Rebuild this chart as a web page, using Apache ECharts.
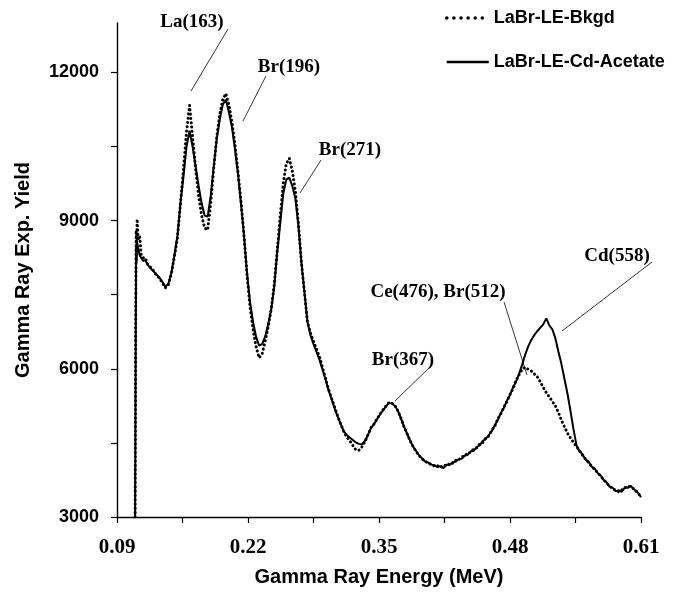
<!DOCTYPE html>
<html><head><meta charset="utf-8">
<script src="https://cdn.jsdelivr.net/npm/echarts@6/dist/echarts.min.js"></script>
<style>html,body{margin:0;padding:0;background:#fff}#c{width:683px;height:592px}</style>
</head><body><div id="c"></div>
<script>
// Gamma ray energy (MeV), yield pairs
const bkgdName = 'LaBr-LE-Bkgd';
const cdName = 'LaBr-LE-Cd-Acetate';
const xTicks = [0.09,0.155,0.22,0.285,0.35,0.415,0.48,0.545,0.61];
const xLabels = [0.09,0.22,0.35,0.48,0.61];
const yTicks = [3000,4500,6000,7500,9000,10500,12000];
const yLabels = [3000,6000,9000,12000];
const peakLabels = ['La(163)','Br(196)','Br(271)','Br(367)','Ce(476), Br(512)','Cd(558)'];

const cdData = [
[0.1080,3000],[0.1085,6000],[0.1090,8500],[0.1095,8150],[0.1100,8550],[0.1110,8450],[0.1125,8300],[0.1140,8250],[0.1160,8180],[0.1180,8200],[0.1200,8120],
[0.123,8040],[0.126,7980],[0.129,7910],[0.132,7850],[0.135,7760],[0.138,7660],[0.141,7720],[0.144,7950],[0.147,8300],[0.150,8700],
[0.153,9350],[0.156,9900],[0.159,10500],[0.162,10820],[0.165,10500],[0.168,10100],[0.171,9700],[0.174,9350],[0.177,9100],[0.180,9080],
[0.183,9500],[0.186,10100],[0.189,10650],[0.192,11050],[0.195,11350],[0.198,11450],[0.201,11200],[0.204,10900],[0.207,10450],[0.210,9950],
[0.213,9350],[0.216,8700],[0.219,7950],[0.222,7350],[0.225,6950],[0.228,6650],[0.231,6470],[0.234,6500],[0.237,6650],[0.240,6900],
[0.243,7200],[0.246,7650],[0.249,8350],[0.252,8950],[0.255,9550],[0.258,9830],[0.261,9870],[0.264,9700],[0.267,9450],[0.270,8900],
[0.273,8150],[0.276,7550],[0.279,6950],[0.282,6680],[0.285,6500],[0.288,6340],[0.291,6180],[0.294,5980],[0.297,5780],[0.300,5560],
[0.303,5380],[0.306,5200],[0.309,5030],[0.312,4880],[0.315,4740],[0.318,4660],[0.321,4610],[0.324,4560],[0.327,4510],[0.330,4480],
[0.333,4470],[0.336,4540],[0.339,4660],[0.342,4800],[0.345,4880],[0.348,4980],[0.351,5076],[0.354,5160],[0.357,5240],[0.360,5310],
[0.363,5300],[0.366,5240],[0.369,5140],[0.372,4980],[0.375,4820],[0.378,4680],[0.381,4540],[0.384,4420],[0.387,4330],[0.390,4240],
[0.393,4180],[0.396,4120],[0.399,4100],[0.402,4060],[0.405,4050],[0.408,4010],[0.411,4030],[0.414,3990],[0.417,4060],[0.420,4050],
[0.423,4110],[0.426,4120],[0.429,4170],[0.432,4180],[0.435,4240],[0.438,4260],[0.441,4330],[0.444,4340],[0.447,4420],[0.450,4450],
[0.453,4540],[0.456,4580],[0.459,4660],[0.462,4740],[0.465,4860],[0.468,4970],[0.471,5110],[0.474,5210],[0.477,5360],[0.480,5470],
[0.483,5620],[0.486,5740],[0.489,5900],[0.492,6080],[0.495,6280],[0.498,6450],[0.501,6580],[0.504,6680],[0.507,6760],[0.510,6830],
[0.513,6900],[0.516,7020],[0.519,6880],[0.522,6800],[0.525,6620],[0.528,6350],[0.531,6100],[0.534,5800],[0.537,5500],[0.540,5150],
[0.543,4780],[0.546,4450],[0.549,4330],[0.552,4270],[0.555,4160],[0.558,4120],[0.561,4020],[0.564,3980],[0.567,3890],[0.570,3840],
[0.573,3750],[0.576,3700],[0.579,3610],[0.582,3590],[0.585,3520],[0.588,3540],[0.591,3510],[0.594,3600],[0.597,3590],[0.600,3630],
[0.603,3560],[0.606,3520],[0.609,3430],[0.610,3400]
];

const bkgdData = [
[0.1080,3000],[0.1085,6500],[0.1090,8800],[0.1095,8400],[0.1100,9030],[0.1110,8600],[0.1125,8700],[0.1140,8300],[0.1160,8250],[0.1180,8250],[0.1200,8130],
[0.123,8060],[0.126,7990],[0.129,7900],[0.132,7840],[0.135,7740],[0.138,7640],[0.141,7700],[0.144,7930],[0.147,8280],[0.150,8650],
[0.153,9350],[0.156,10050],[0.159,10800],[0.162,11330],[0.165,10700],[0.168,10050],[0.171,9500],[0.174,9100],[0.177,8850],[0.180,8810],
[0.183,9350],[0.186,10050],[0.189,10700],[0.192,11150],[0.195,11450],[0.198,11570],[0.201,11350],[0.204,11000],[0.207,10550],[0.210,10000],
[0.213,9400],[0.216,8700],[0.219,7900],[0.222,7250],[0.225,6800],[0.228,6450],[0.231,6220],[0.234,6300],[0.237,6550],[0.240,6850],
[0.243,7200],[0.246,7700],[0.249,8400],[0.252,9100],[0.255,9750],[0.258,10150],[0.261,10260],[0.264,10000],[0.267,9600],[0.270,8950],
[0.273,8150],[0.276,7550],[0.279,6950],[0.282,6720],[0.285,6560],[0.288,6400],[0.291,6240],[0.294,6020],[0.297,5800],[0.300,5580],
[0.303,5400],[0.306,5220],[0.309,5040],[0.312,4880],[0.315,4730],[0.318,4620],[0.321,4540],[0.324,4450],[0.327,4360],[0.330,4350],
[0.333,4420],[0.336,4520],[0.339,4660],[0.342,4810],[0.345,4880],[0.348,4990],[0.351,5080],[0.354,5170],[0.357,5250],[0.360,5320],
[0.363,5300],[0.366,5250],[0.369,5140],[0.372,4990],[0.375,4820],[0.378,4680],[0.381,4540],[0.384,4420],[0.387,4320],[0.390,4240],
[0.393,4170],[0.396,4130],[0.399,4080],[0.402,4070],[0.405,4030],[0.408,4040],[0.411,4000],[0.414,4050],[0.417,4030],[0.420,4080],
[0.423,4090],[0.426,4150],[0.429,4150],[0.432,4220],[0.435,4230],[0.438,4300],[0.441,4310],[0.444,4380],[0.447,4400],[0.450,4480],
[0.453,4510],[0.456,4600],[0.459,4640],[0.462,4760],[0.465,4840],[0.468,4990],[0.471,5090],[0.474,5230],[0.477,5340],[0.480,5480],
[0.483,5600],[0.486,5760],[0.489,5880],[0.492,5990],[0.495,6030],[0.498,5990],[0.501,5960],[0.504,5900],[0.507,5840],[0.510,5740],
[0.513,5620],[0.516,5520],[0.519,5430],[0.522,5340],[0.525,5250],[0.528,5120],[0.531,4960],[0.534,4830],[0.537,4700],[0.540,4600],
[0.543,4510],[0.546,4430],[0.549,4340],[0.552,4250],[0.555,4170],[0.558,4100],[0.561,4030],[0.564,3960],[0.567,3900],[0.570,3820],
[0.573,3760],[0.576,3680],[0.579,3630],[0.582,3570],[0.585,3540],[0.588,3510],[0.591,3550],[0.594,3590],[0.597,3630],[0.600,3600],
[0.603,3570],[0.606,3500],[0.609,3440],[0.610,3410]
];

const chart = echarts.init(document.getElementById('c'));
const sans = 'Liberation Sans, Arial, sans-serif';
const serif = 'Liberation Serif, Times New Roman, serif';
chart.setOption({
  animation: false,
  backgroundColor: '#fff',
  grid: { left: 117, right: 42, top: 23, bottom: 68, containLabel: false },
  legend: {
    orient: 'vertical', left: 445, top: 9, padding: 0, itemWidth: 42, itemHeight: 14, itemGap: 26,
    itemStyle: { opacity: 0 },
    textStyle: { fontFamily: sans, fontWeight: 'bold', fontSize: 18, color: '#000' },
    data: [
      { name: bkgdName, lineStyle: { type: [0.1, 7], width: 3.5, cap: 'round', color: '#000' } },
      { name: cdName, lineStyle: { width: 2.5, color: '#000' } }
    ]
  },
  xAxis: {
    type: 'value', min: 0.09, max: 0.61,
    name: 'Gamma Ray Energy (MeV)', nameLocation: 'middle', nameGap: 50,
    nameTextStyle: { fontFamily: sans, fontWeight: 'bold', fontSize: 20, color: '#000' },
    axisLine: { show: true, onZero: false, lineStyle: { color: '#000', width: 1.4 } },
    axisTick: { show: true, length: 6, customValues: xTicks, lineStyle: { color: '#000', width: 1.2 } },
    axisLabel: { customValues: xLabels, margin: 20, fontFamily: serif, fontWeight: 'bold', fontSize: 21, color: '#000',
      formatter: v => v.toFixed(2) },
    splitLine: { show: false }
  },
  yAxis: {
    type: 'value', min: 3000, max: 13000,
    name: 'Gamma Ray Exp. Yield', nameLocation: 'middle', nameGap: 84,
    nameTextStyle: { fontFamily: sans, fontWeight: 'bold', fontSize: 20, color: '#000' },
    axisLine: { show: true, onZero: false, lineStyle: { color: '#000', width: 1.4 } },
    axisTick: { show: true, length: 6, customValues: yTicks, lineStyle: { color: '#000', width: 1.2 } },
    axisLabel: { customValues: yLabels, margin: 18, fontFamily: sans, fontWeight: 'bold', fontSize: 18, color: '#000',
      formatter: v => String(v) },
    splitLine: { show: false }
  },
  series: [
    { name: bkgdName, type: 'line', data: bkgdData, showSymbol: false, symbol: 'none',
      lineStyle: { color: '#000', width: 3, type: [0.1, 4.2], cap: 'round' }, itemStyle: { color: '#000' }, z: 2 },
    { name: cdName, type: 'line', data: cdData, showSymbol: false, symbol: 'none',
      lineStyle: { color: '#000', width: 2, type: 'solid' }, itemStyle: { color: '#000' }, z: 3 }
  ]
});

// peak annotations: text and leader lines (pixel layout)
const notePos = [
  { t: [192, 22], l: [[228, 29], [191, 91]] },
  { t: [289, 67], l: [[266, 76], [243, 121]] },
  { t: [350, 150], l: [[321, 160], [300, 193]] },
  { t: [403, 360], l: [[430, 367], [395, 401]] },
  { t: [438, 292], l: [[504, 302], [527, 375]] },
  { t: [617, 256], l: [[652, 262], [562, 331]] }
];
const g = [];
peakLabels.forEach((txt, i) => {
  const p = notePos[i];
  g.push({ type: 'text', x: p.t[0], y: p.t[1], style: { text: txt, font: 'bold 19px ' + serif, fill: '#000', align: 'center', verticalAlign: 'middle' } });
  g.push({ type: 'line', shape: { x1: p.l[0][0], y1: p.l[0][1], x2: p.l[1][0], y2: p.l[1][1] }, style: { stroke: '#000', lineWidth: 0.8 } });
});
chart.setOption({ graphic: g });
</script></body></html>
